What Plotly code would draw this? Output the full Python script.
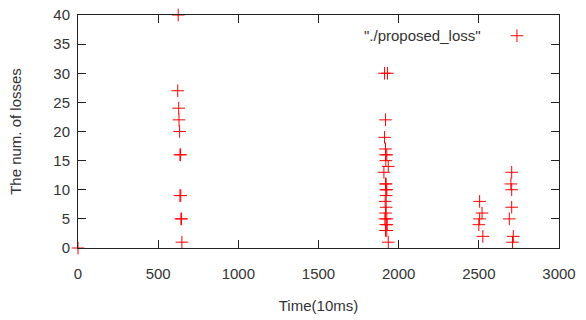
import plotly.graph_objects as go

# Data (time in 10ms units, number of losses)
time_c0 = [0]
loss_c0 = [0]
time_c1 = [625, 622, 628, 630, 634, 636, 640, 636, 641, 642, 646, 648]
loss_c1 = [40, 27, 24, 22, 20, 16, 16, 9, 9, 5, 5, 1]
time_c2 = [1912, 1930, 1918, 1912, 1918, 1918, 1926, 1920, 1935, 1908, 1918, 1922,
           1920, 1926, 1922, 1916, 1922, 1918, 1926, 1914, 1920, 1928, 1918, 1926, 1935]
loss_c2 = [30, 30, 22, 19, 17, 16, 16, 15, 14, 13, 11, 11,
           10, 10, 9, 8, 7, 6, 5, 5, 4, 4, 3, 3, 1]
time_c3 = [2505, 2520, 2505, 2500, 2525]
loss_c3 = [8, 6, 5, 4, 2]
time_c4 = [2705, 2700, 2705, 2705, 2690, 2715, 2710]
loss_c4 = [13, 11, 10, 7, 5, 2, 1]

times = time_c0 + time_c1 + time_c2 + time_c3 + time_c4
losses = loss_c0 + loss_c1 + loss_c2 + loss_c3 + loss_c4

x_ticks = [0, 500, 1000, 1500, 2000, 2500, 3000]
y_ticks = [0, 5, 10, 15, 20, 25, 30, 35, 40]
legend_label = '"./proposed_loss"'

FONT = "Liberation Sans, Arial"

fig = go.Figure()
fig.add_trace(go.Scatter(
    x=times, y=losses, mode="markers", name=" ",
    marker=dict(symbol="cross-thin", size=9, color="#ff0000",
                line=dict(color="#ff0000", width=1)),
    cliponaxis=False, showlegend=True, hoverinfo="skip",
))

axis_common = dict(
    showgrid=False, zeroline=False, showline=True, linecolor="#222",
    linewidth=1, mirror="ticks", ticks="inside", ticklen=8, tickwidth=1,
    tickcolor="#222", automargin=True,
    tickfont=dict(family=FONT, size=15, color="#333"),
)

fig.update_xaxes(range=[0, 3000], tickvals=x_ticks, ticklabelstandoff=12,
                 title=dict(text="Time(10ms)", standoff=19,
                            font=dict(family=FONT, size=15, color="#333")),
                 **axis_common)
fig.update_yaxes(range=[0, 40], tickvals=y_ticks, ticklabelstandoff=4,
                 title=dict(text="The num. of losses", standoff=28,
                            font=dict(family=FONT, size=15, color="#333")),
                 **axis_common)

fig.add_annotation(text=legend_label, xref="paper", yref="paper", x=0.841, y=0.91,
                   xanchor="right", yanchor="middle", showarrow=False,
                   font=dict(family=FONT, size=15, color="#333"))

fig.update_layout(
    width=586, height=320,
    margin=dict(l=78, r=27, t=15, b=72, autoexpand=False),
    paper_bgcolor="white", plot_bgcolor="white",
    showlegend=True, hovermode=False,
    legend=dict(x=0.871, y=0.91, xanchor="left", yanchor="middle",
                bgcolor="rgba(0,0,0,0)", font=dict(size=15)),
)

fig.write_html("out.html", config={"displayModeBar": False, "staticPlot": True},
               post_script="document.body.style.margin='0';document.body.style.overflow='hidden';")
